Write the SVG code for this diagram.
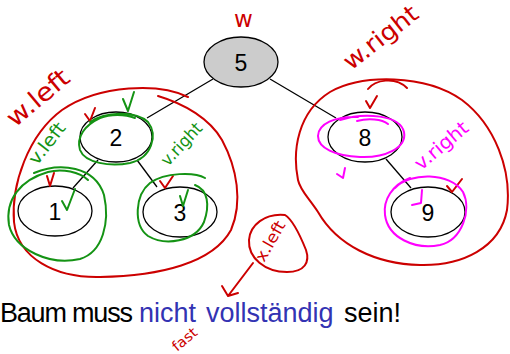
<svg xmlns="http://www.w3.org/2000/svg" width="510" height="354" viewBox="0 0 510 354">
<style>
.node ellipse{fill:#ffffff;stroke:#000000;stroke-width:1.3}
.node text{font-family:"Liberation Sans",Arial,sans-serif;font-size:23px;fill:#000000;text-anchor:middle;dominant-baseline:central}
.edge{stroke:#000000;stroke-width:1.3;fill:none}
.ink{fill:none;stroke-width:2;stroke-linecap:round;stroke-linejoin:round}
.r{stroke:#cc0000}
.g{stroke:#149314}
.m{stroke:#ff00ff}
.hw{font-family:"DejaVu Sans","Liberation Sans",sans-serif;font-weight:normal}
.main{font-family:"Liberation Sans",Arial,sans-serif;font-size:27px;fill:#000000}
.main.blue{fill:#3333b3}
</style>
<rect width="510" height="354" fill="#ffffff"/>
<g id="connectors">
<line class="edge" x1="213" y1="79" x2="147" y2="118"/>
<line class="edge" x1="270" y1="79" x2="336" y2="118"/>
<line class="edge" x1="98" y1="160" x2="73" y2="188"/>
<line class="edge" x1="137" y1="160" x2="157" y2="187"/>
<line class="edge" x1="386" y1="159" x2="411" y2="188"/>
</g>
<g id="node5" class="node"><ellipse cx="241" cy="62" rx="37" ry="25" style="fill:#cccccc"/><text x="241" y="63">5</text></g>
<g id="node2" class="node"><ellipse cx="116" cy="137" rx="36" ry="25"/><text x="116" y="138">2</text></g>
<g id="node8" class="node"><ellipse cx="365" cy="137" rx="37" ry="25"/><text x="365" y="138">8</text></g>
<g id="node1" class="node"><ellipse cx="55" cy="211" rx="37" ry="25"/><text x="55" y="212">1</text></g>
<g id="node3" class="node"><ellipse cx="180" cy="212" rx="37" ry="25"/><text x="180" y="213">3</text></g>
<g id="node9" class="node"><ellipse cx="428" cy="212" rx="37" ry="25"/><text x="428" y="213">9</text></g>
<text class="main" x="0" y="322" letter-spacing="-1.2">Baum muss</text>
<text class="main blue" x="139" y="322">nicht</text>
<text class="main blue" x="206" y="322">vollständig</text>
<text class="main" x="344" y="322">sein!</text>
<g id="annotations">
<path class="ink r" d="M 188,97 C 160,83 100,84 62,110 C 28,135 11,185 14,222 C 18,258 55,278 100,277 C 160,276 213,263 231,230 C 243,202 237,168 222,140 C 210,119 185,104 158,96"/>
<path class="ink r" d="M 298,180 C 292,150 298,112 330,92 C 362,74 425,74 462,100 C 495,125 512,170 507,210 C 500,248 462,266 420,265 C 375,264 337,245 318,212 C 308,197 300,190 298,180 Z"/>
<path class="ink r" d="M 368,89 C 375,80 395,76 407,88"/>
<path class="ink r" d="M 85,114 L 90,121 L 95,108"/>
<path class="ink r" d="M 47,176 L 50,186 L 54,173"/>
<path class="ink r" d="M 160,181 L 165,188 L 173,176"/>
<path class="ink r" d="M 366,101 L 370,108 L 377,96"/>
<path class="ink r" d="M 447,186 L 452,192 L 462,179"/>
<path class="ink r" d="M 285,215 C 265,213 250,225 249,240 C 248,258 265,272 287,272 C 305,272 310,262 306,250 C 300,235 293,220 285,215 Z"/>
<path class="ink r" d="M 253,263 L 228,296 M 222,286 L 228,296 L 238,293"/>
<path class="ink g" d="M 90,122 C 105,112 135,110 148,122 C 158,135 152,158 130,163 C 110,167 85,163 80,150 C 76,137 85,125 100,118 C 110,114 125,114 135,118"/>
<path class="ink g" d="M 123,99 L 128,111 L 134,92"/>
<path class="ink g" d="M 34,173 C 60,162 95,166 104,195 C 110,222 103,252 80,259 C 50,266 15,250 9,225 C 5,200 20,180 48,172 C 62,168 80,172 88,180"/>
<path class="ink g" d="M 62,201 L 67,210 L 75,189"/>
<path class="ink g" d="M 205,178 C 195,172 165,172 150,183 C 135,195 133,225 148,236 C 165,246 195,242 204,222 C 210,205 208,190 195,185"/>
<path class="ink g" d="M 180,196 L 183,206 L 188,190"/>
<path class="ink m" d="M 340,120 C 365,112 400,115 404,132 C 407,148 385,158 360,157 C 335,156 318,148 318,136 C 318,124 335,116 358,117"/>
<path class="ink m" d="M 357,121 C 368,118 382,119 388,124"/>
<path class="ink m" d="M 345,168 L 343,178 L 337,174"/>
<path class="ink m" d="M 395,188 C 410,172 450,172 463,192 C 472,210 462,240 440,245 C 415,250 388,238 385,215 C 383,200 392,185 410,178"/>
<path class="ink m" d="M 422,190 L 421,203 L 412,205"/>
<text class="hw" x="234" y="27" font-size="23" fill="#cc0000">w</text>
<text class="hw" transform="translate(15,128) rotate(-40)" font-size="25" fill="#cc0000" textLength="74" lengthAdjust="spacingAndGlyphs">w.left</text>
<text class="hw" transform="translate(351,71) rotate(-38)" font-size="24" fill="#cc0000" textLength="88" lengthAdjust="spacingAndGlyphs">w.right</text>
<text class="hw" transform="translate(37,166) rotate(-52)" font-size="18" fill="#149314" textLength="48" lengthAdjust="spacingAndGlyphs">v.left</text>
<text class="hw" transform="translate(168,167) rotate(-47)" font-size="17" fill="#149314" textLength="52" lengthAdjust="spacingAndGlyphs">v.right</text>
<text class="hw" transform="translate(421,171) rotate(-40)" font-size="19" fill="#ff00ff" textLength="64" lengthAdjust="spacingAndGlyphs">v.right</text>
<text class="hw" transform="translate(264,263) rotate(-60)" font-size="16" fill="#cc0000" textLength="44" lengthAdjust="spacingAndGlyphs">x.left</text>
<text class="hw" transform="translate(177,352) rotate(-40)" font-size="14" fill="#cc0000" textLength="28" lengthAdjust="spacingAndGlyphs">fast</text>
</g>
</svg>
